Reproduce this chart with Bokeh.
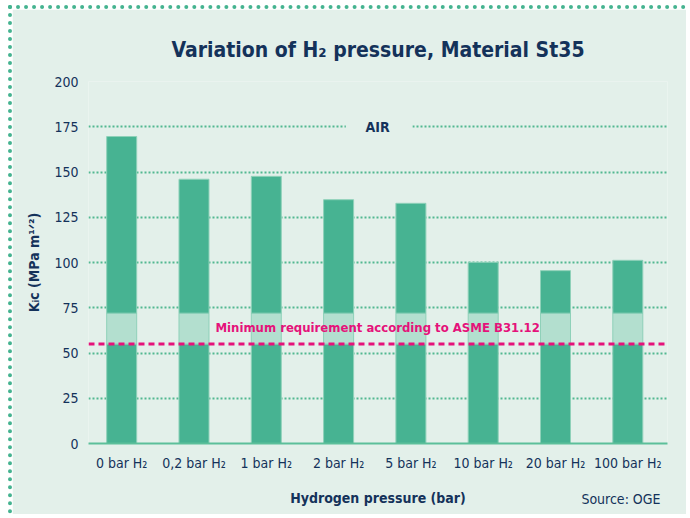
from bokeh.plotting import figure
from bokeh.models import Label, BoxAnnotation, Span, FixedTicker, Range1d, Title
from bokeh.embed import file_html
from bokeh.resources import INLINE

# ---- data ----
categories = ["0 bar H₂", "0,2 bar H₂", "1 bar H₂", "2 bar H₂", "5 bar H₂",
              "10 bar H₂", "20 bar H₂", "100 bar H₂"]
kic_values = [169.6, 146.0, 147.6, 134.7, 132.7, 100.1, 95.5, 101.2]
min_requirement = 55
band_top = 72
y_ticks = [0, 25, 50, 75, 100, 125, 150, 175, 200]

# ---- style ----
FONT = "DejaVu Sans Condensed"
NAVY = "#14325a"
BAR = "#47b392"
BAND = "#b3dfcf"
EDGE = "#8fd1b9"
GRID = "#52b891"
MAGENTA = "#e5127a"
BG = "#e3f0ea"

xs = list(range(len(categories)))

p = figure(width=678, height=509, output_backend="svg", toolbar_location=None,
           x_range=Range1d(-0.459, 7.549), y_range=Range1d(0, 200),
           min_border_left=76, min_border_right=23, min_border_top=72,
           min_border_bottom=75)
p.styles = {"border-top": "4px dotted #45b390", "border-left": "4px dotted #45b390",
            "margin-left": "8px", "margin-top": "5px"}
p.background_fill_color = BG
p.border_fill_color = BG
p.outline_line_color = None

p.title = Title(text="Variation of H₂ pressure, Material St35", align="center",
                text_font=FONT, text_font_size="21px", text_font_style="bold",
                text_color=NAVY, standoff=39)

bw = 0.415
p.vbar(x=xs, width=bw, bottom=0, top=[min_requirement] * len(xs),
       fill_color=BAR, line_color=EDGE, line_width=1)
p.vbar(x=xs, width=bw, bottom=min_requirement, top=[band_top] * len(xs),
       fill_color=BAND, line_color=EDGE, line_width=1)
p.vbar(x=xs, width=bw, bottom=band_top, top=kic_values,
       fill_color=BAR, line_color=EDGE, line_width=1)

# grid
p.xgrid.grid_line_color = None
p.ygrid.ticker = FixedTicker(ticks=y_ticks[1:])
p.ygrid.grid_line_color = GRID
p.ygrid.grid_line_width = 2
p.ygrid.grid_line_dash = "2 2"

# axes
p.yaxis.ticker = FixedTicker(ticks=y_ticks)
p.yaxis.axis_line_color = None
p.yaxis.major_tick_line_color = None
p.yaxis.minor_tick_line_color = None
p.yaxis.major_label_standoff = 4
p.yaxis.major_label_text_font = FONT
p.yaxis.major_label_text_font_size = "14px"
p.yaxis.major_label_text_color = NAVY
p.yaxis.axis_label = "Kᵢc (MPa m¹ᐟ²)"
p.yaxis.axis_label_text_font = FONT
p.yaxis.axis_label_text_font_size = "14px"
p.yaxis.axis_label_text_font_style = "bold"
p.yaxis.axis_label_text_color = NAVY
p.yaxis.axis_label_standoff = 9

p.xaxis.ticker = FixedTicker(ticks=xs)
p.xaxis.major_label_overrides = {i: c for i, c in enumerate(categories)}
p.xaxis.axis_line_color = "#5cbf9a"
p.xaxis.axis_line_width = 2
p.xaxis.major_tick_line_color = None
p.xaxis.minor_tick_line_color = None
p.xaxis.major_label_standoff = 5
p.xaxis.major_label_text_font = FONT
p.xaxis.major_label_text_font_size = "14px"
p.xaxis.major_label_text_color = NAVY
p.xaxis.axis_label = "Hydrogen pressure (bar)"
p.xaxis.axis_label_text_font = FONT
p.xaxis.axis_label_text_font_size = "14px"
p.xaxis.axis_label_text_font_style = "bold"
p.xaxis.axis_label_text_color = NAVY
p.xaxis.axis_label_standoff = 16

# source note, on the line of the x-axis label
p.add_layout(Title(text="Source: OGE", align="right", vertical_align="top",
                   offset=7, standoff=-36,
                   text_font=FONT, text_font_size="14px", text_font_style="normal",
                   text_color=NAVY), "below")

# minimum requirement line + label
p.add_layout(Span(location=min_requirement, dimension="width", line_color=MAGENTA,
                  line_width=3, line_dash="6 4"))
p.add_layout(Label(x=3.54, y=64, text="Minimum requirement according to ASME B31.12",
                   text_align="center", text_baseline="middle", text_font=FONT,
                   text_font_size="13px", text_font_style="bold", text_color=MAGENTA))

# AIR label with gap in grid line
p.add_layout(BoxAnnotation(left=3.10, right=4.02, bottom=172.5, top=177.5,
                           fill_color=BG, fill_alpha=1, line_color=None))
p.add_layout(Label(x=3.54, y=175, text="AIR", text_align="center",
                   text_baseline="middle", text_font=FONT, text_font_size="14px",
                   text_font_style="bold", text_color=NAVY))

open("out.html", "w").write(file_html(p, INLINE))
